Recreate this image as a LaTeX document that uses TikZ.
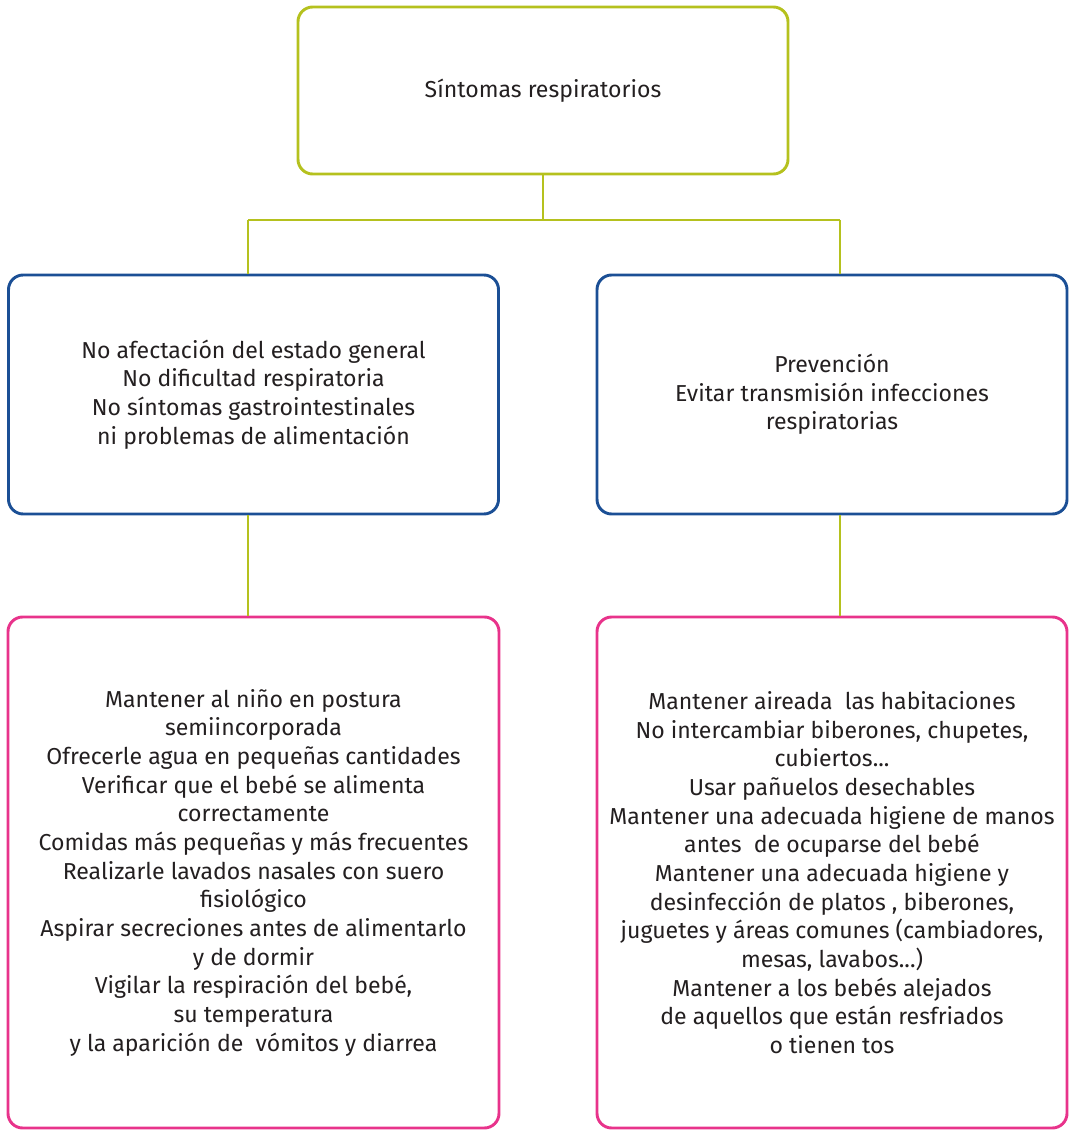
\documentclass[tikz,border=0pt]{standalone}
\usepackage{fontspec}
\setmainfont{Fira Sans}
\definecolor{lima}{HTML}{B5C11E}
\definecolor{azul}{HTML}{1B4F95}
\definecolor{rosa}{HTML}{E8338B}
\definecolor{texto}{HTML}{231F20}
\begin{document}
\begin{tikzpicture}[x=0.75pt,y=-0.75pt,
	caja/.style={draw, rounded corners=11pt, line width=2.2pt, align=center, text=texto,
		font=\fontsize{17.3}{21.5}\selectfont, inner sep=0pt},
	enlace/.style={draw=lima, line width=2.2pt}]
	\useasboundingbox (0,0) rectangle (1068,1130);
	\node (sintomas) at (543,90.5) [caja, draw=lima, minimum width=367.5pt, minimum height=125.25pt] {Síntomas respiratorios};
	\node (estado) at (253.5,394.5) [caja, draw=azul, minimum width=367.5pt, minimum height=179.25pt] {No afectación del estado general\\No dificultad respiratoria\\No síntomas gastrointestinales\\ni problemas de alimentación};
	\node (prevencion) at (832,394.5) [caja, draw=azul, minimum width=352.5pt, minimum height=179.25pt] {Prevención\\Evitar transmisión infecciones\\respiratorias};
	\node (cuidados) at (253.5,872.5) [caja, draw=rosa, minimum width=368.25pt, minimum height=383.25pt] {Mantener al niño en postura\\semiincorporada\\Ofrecerle agua en pequeñas cantidades\\Verificar que el bebé se alimenta\\correctamente\\Comidas más pequeñas y más frecuentes\\Realizarle lavados nasales con suero\\fisiológico\\Aspirar secreciones antes de alimentarlo\\y de dormir\\Vigilar la respiración del bebé,\\su temperatura\\y la aparición de~ vómitos y diarrea};
	\node (medidas) at (832,872.5) [caja, draw=rosa, minimum width=352.5pt, minimum height=383.25pt] {Mantener aireada~ las habitaciones\\No intercambiar biberones, chupetes,\\cubiertos...\\Usar pañuelos desechables\\Mantener una adecuada higiene de manos\\antes~ de ocuparse del bebé\\Mantener una adecuada higiene y\\desinfección de platos , biberones,\\juguetes y áreas comunes (cambiadores,\\mesas, lavabos...)\\Mantener a los bebés alejados\\de aquellos que están resfriados\\o tienen tos};
	\coordinate (jl) at (248,220);
	\coordinate (jr) at (840,220);
	\draw[enlace] (sintomas.south) |- (jl);
	\draw[enlace] (sintomas.south) |- (jr);
	\draw[enlace] (jl) -- (jl |- estado.north);
	\draw[enlace] (jr) -- (jr |- prevencion.north);
	\draw[enlace] (jl |- estado.south) -- (jl |- cuidados.north);
	\draw[enlace] (jr |- prevencion.south) -- (jr |- medidas.north);
\end{tikzpicture}
\end{document}
